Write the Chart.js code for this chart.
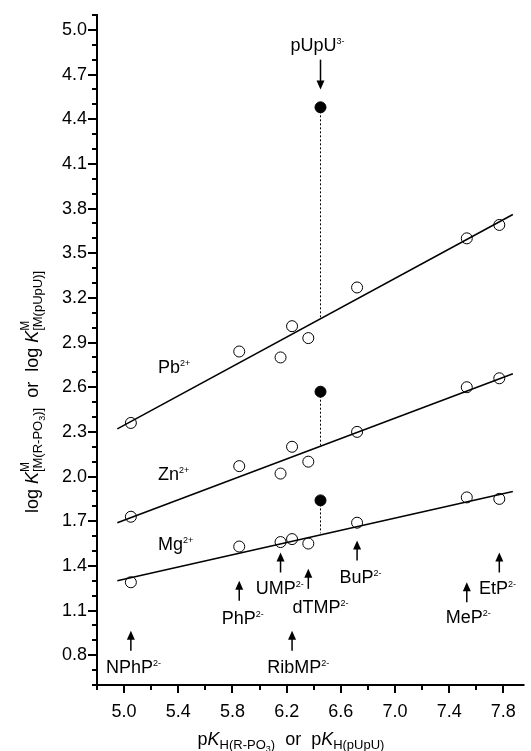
<!DOCTYPE html>
<html lang="en">
<head>
<meta charset="UTF-8">
<title>log K vs pK_H</title>
<style>
  html, body { margin: 0; padding: 0; background: #ffffff; }
  #wrap { width: 531px; height: 751px; position: relative; }
</style>
<script src="https://cdn.jsdelivr.net/npm/chart.js@4"></script>
</head>
<body>
<div id="wrap"><canvas id="chart" width="531" height="751"></canvas></div>
<script>
// ligands (phosphate monoesters), their pK_H and log K for each metal ion
const ligands = ['NPhP', 'PhP', 'UMP', 'RibMP', 'dTMP', 'BuP', 'MeP', 'EtP'];
const pKH = [5.05, 5.85, 6.155, 6.24, 6.36, 6.72, 7.53, 7.77];
const logK_Pb = [2.36, 2.84, 2.80, 3.01, 2.93, 3.27, 3.60, 3.69];
const logK_Zn = [1.73, 2.07, 2.02, 2.20, 2.10, 2.30, 2.60, 2.66];
const logK_Mg = [1.29, 1.53, 1.56, 1.58, 1.55, 1.69, 1.86, 1.85];

// pUpU3- (filled symbols)
const pKH_pUpU = [6.45];
const pUpU_Pb = [4.48];
const pUpU_Zn = [2.57];
const pUpU_Mg = [1.84];

// reference lines (end points) and their value at pK_H(pUpU)
const fitX = [4.95, 7.87];
const fitPb = [2.32, 3.76];
const fitZn = [1.69, 2.69];
const fitMg = [1.30, 1.90];
const lineAtPUpU = [3.06, 2.21, 1.62];

// axis ticks
const xMajor = [5.0, 5.4, 5.8, 6.2, 6.6, 7.0, 7.4, 7.8];
const xMinor = [4.8, 5.2, 5.6, 6.0, 6.4, 6.8, 7.2, 7.6];
const yMajor = [0.8, 1.1, 1.4, 1.7, 2.0, 2.3, 2.6, 2.9, 3.2, 3.5, 3.8, 4.1, 4.4, 4.7, 5.0];
const yMinor = [0.6, 0.7, 0.9, 1.0, 1.2, 1.3, 1.5, 1.6, 1.8, 1.9, 2.1, 2.2, 2.4, 2.5, 2.7, 2.8,
                3.0, 3.1, 3.3, 3.4, 3.6, 3.7, 3.9, 4.0, 4.2, 4.3, 4.5, 4.6, 4.8, 4.9, 5.1];

const FONT = "'Liberation Sans', Arial, Helvetica, sans-serif";

// where the ligand arrows and names sit (data units): arrow x, arrow tip y, label x, label y
const ligandNotes = [
  [5.05, 0.965, 5.07, 0.725],
  [5.85, 1.30, 5.876, 1.053],
  [6.155, 1.49, 6.15, 1.254],
  [6.24, 0.965, 6.286, 0.723],
  [6.36, 1.38, 6.45, 1.127],
  [6.72, 1.57, 6.745, 1.328],
  [7.53, 1.29, 7.54, 1.06],
  [7.77, 1.49, 7.756, 1.254]
];
const metalNotes = [['Pb', 5.25, 2.74], ['Zn', 5.25, 2.02], ['Mg', 5.25, 1.55]];

function pts(xs, ys) {
  return xs.map((x, i) => ({x: x, y: ys[i]}));
}

function drawRich(ctx, parts, x, y, align) {
  // parts: {t, size, dy, italic, stay}
  let w = 0;
  parts.forEach(p => {
    ctx.font = (p.italic ? 'italic ' : '') + p.size + 'px ' + FONT;
    p.w = ctx.measureText(p.t).width;
    if (!p.stay) w += p.w;
  });
  let cx = align === 'center' ? x - w / 2 : (align === 'right' ? x - w : x);
  ctx.textAlign = 'left';
  ctx.textBaseline = 'alphabetic';
  parts.forEach(p => {
    ctx.font = (p.italic ? 'italic ' : '') + p.size + 'px ' + FONT;
    ctx.fillText(p.t, cx, y + (p.dy || 0));
    if (!p.stay) cx += p.w;
  });
}

function withSup(name, sup) {
  return [{t: name, size: 18}, {t: sup, size: 9, dy: -7}];
}

function arrow(ctx, x, y0, y1) {
  // line from y0 to tip y1
  const dir = y1 < y0 ? 1 : -1;
  ctx.beginPath();
  ctx.moveTo(x, y0);
  ctx.lineTo(x, y1 + dir * 6);
  ctx.lineWidth = 1.5;
  ctx.stroke();
  ctx.beginPath();
  ctx.moveTo(x, y1);
  ctx.lineTo(x - 4, y1 + dir * 9);
  ctx.lineTo(x + 4, y1 + dir * 9);
  ctx.closePath();
  ctx.fill();
}

const decorations = {
  id: 'decorations',
  afterDraw(chart) {
    const ctx = chart.ctx;
    const xs = chart.scales.x, ys = chart.scales.y;
    const area = chart.chartArea;
    ctx.save();
    ctx.fillStyle = '#000';
    ctx.strokeStyle = '#000';

    // axis lines
    ctx.lineWidth = 2;
    ctx.beginPath();
    ctx.moveTo(area.left, ys.getPixelForValue(5.1) - 1);
    ctx.lineTo(area.left, area.bottom);
    ctx.lineTo(area.right, area.bottom);
    ctx.stroke();

    // tick marks
    ctx.lineWidth = 2;
    xs.ticks.forEach(t => {
      const px = Math.round(xs.getPixelForValue(t.value));
      const len = xMajor.some(v => Math.abs(v - t.value) < 1e-6) ? 8 : 5;
      ctx.beginPath();
      ctx.moveTo(px, area.bottom);
      ctx.lineTo(px, area.bottom + len);
      ctx.stroke();
    });
    ys.ticks.forEach(t => {
      const py = Math.round(ys.getPixelForValue(t.value));
      const len = yMajor.some(v => Math.abs(v - t.value) < 1e-6) ? 9 : 5;
      ctx.beginPath();
      ctx.moveTo(area.left, py);
      ctx.lineTo(area.left - len, py);
      ctx.stroke();
    });

    // ligand arrows and names
    ligandNotes.forEach((n, i) => {
      const ax = xs.getPixelForValue(n[0]);
      const tip = ys.getPixelForValue(n[1]);
      arrow(ctx, ax, tip + 20, tip);
      drawRich(ctx, withSup(ligands[i], '2-'), xs.getPixelForValue(n[2]), ys.getPixelForValue(n[3]) + 6.5, 'center');
    });

    // metal ion names
    metalNotes.forEach(m => {
      drawRich(ctx, withSup(m[0], '2+'), xs.getPixelForValue(m[1]), ys.getPixelForValue(m[2]) + 6.5, 'left');
    });

    // pUpU3- label and arrow
    const ux = xs.getPixelForValue(pKH_pUpU[0]);
    drawRich(ctx, withSup('pUpU', '3-'), ux - 3, ys.getPixelForValue(4.90) + 6.5, 'center');
    arrow(ctx, ux, ys.getPixelForValue(4.80), ys.getPixelForValue(4.60));

    // x axis title
    drawRich(ctx, [
      {t: 'p', size: 18}, {t: 'K', size: 18, italic: true},
      {t: 'H(R-PO', size: 13, dy: 4}, {t: '3', size: 9, dy: 7}, {t: ')', size: 13, dy: 4},
      {t: '  or  p', size: 18}, {t: 'K', size: 18, italic: true},
      {t: 'H(pUpU)', size: 13, dy: 4}
    ], 291, 745, 'center');

    // y axis title (rotated)
    ctx.translate(38, 392);
    ctx.rotate(-Math.PI / 2);
    drawRich(ctx, [
      {t: 'log ', size: 18}, {t: 'K', size: 18, italic: true},
      {t: 'M', size: 12, dy: -9, stay: true},
      {t: '[M(R-PO', size: 13, dy: 4}, {t: '3', size: 9, dy: 7}, {t: ')]', size: 13, dy: 4},
      {t: '  or  log ', size: 18}, {t: 'K', size: 18, italic: true},
      {t: 'M', size: 12, dy: -9, stay: true},
      {t: '[M(pUpU)]', size: 13, dy: 4}
    ], 0, 0, 'center');
    ctx.restore();
  }
};

const openPoint = {
  showLine: false,
  pointStyle: 'circle',
  pointRadius: 5.5,
  pointBorderWidth: 1,
  pointBorderColor: '#000',
  pointBackgroundColor: 'rgba(0,0,0,0)',
  order: 1
};
const filledPoint = {
  showLine: false,
  pointRadius: 5.5,
  pointBorderWidth: 1,
  pointBorderColor: '#000',
  pointBackgroundColor: '#000',
  order: 0
};
const fitLine = {
  showLine: true,
  pointRadius: 0,
  borderColor: '#000',
  borderWidth: 1.5,
  order: 3
};
const dropLine = {
  showLine: true,
  pointRadius: 0,
  borderColor: '#000',
  borderWidth: 1,
  borderDash: [2, 2],
  order: 2
};

new Chart(document.getElementById('chart'), {
  type: 'scatter',
  data: {
    datasets: [
      Object.assign({label: 'Pb fit', data: pts(fitX, fitPb)}, fitLine),
      Object.assign({label: 'Zn fit', data: pts(fitX, fitZn)}, fitLine),
      Object.assign({label: 'Mg fit', data: pts(fitX, fitMg)}, fitLine),
      Object.assign({label: 'Pb drop', data: [{x: pKH_pUpU[0], y: pUpU_Pb[0]}, {x: pKH_pUpU[0], y: lineAtPUpU[0]}]}, dropLine),
      Object.assign({label: 'Zn drop', data: [{x: pKH_pUpU[0], y: pUpU_Zn[0]}, {x: pKH_pUpU[0], y: lineAtPUpU[1]}]}, dropLine),
      Object.assign({label: 'Mg drop', data: [{x: pKH_pUpU[0], y: pUpU_Mg[0]}, {x: pKH_pUpU[0], y: lineAtPUpU[2]}]}, dropLine),
      Object.assign({label: 'Pb2+', data: pts(pKH, logK_Pb)}, openPoint),
      Object.assign({label: 'Zn2+', data: pts(pKH, logK_Zn)}, openPoint),
      Object.assign({label: 'Mg2+', data: pts(pKH, logK_Mg)}, openPoint),
      Object.assign({label: 'Pb2+ pUpU', data: pts(pKH_pUpU, pUpU_Pb)}, filledPoint),
      Object.assign({label: 'Zn2+ pUpU', data: pts(pKH_pUpU, pUpU_Zn)}, filledPoint),
      Object.assign({label: 'Mg2+ pUpU', data: pts(pKH_pUpU, pUpU_Mg)}, filledPoint)
    ]
  },
  options: {
    responsive: false,
    animation: false,
    layout: { padding: { top: 15, right: 0, left: 0, bottom: 0 } },
    plugins: { legend: { display: false }, tooltip: { enabled: false } },
    scales: {
      x: {
        type: 'linear',
        min: 4.8,
        max: 7.956,
        grid: { display: false, drawTicks: false },
        border: { display: false },
        afterBuildTicks: s => { s.ticks = xMajor.concat(xMinor).sort((a, b) => a - b).map(v => ({value: v})); },
        afterFit: s => { s.height = 66; s.paddingLeft = 0; s.paddingRight = 0; },
        ticks: {
          autoSkip: false,
          maxRotation: 0,
          padding: 16,
          color: '#000',
          font: { family: FONT, size: 18 },
          callback: v => xMajor.some(m => Math.abs(m - v) < 1e-6) ? v.toFixed(1) : ''
        }
      },
      y: {
        type: 'linear',
        min: 0.6,
        max: 5.1,
        grid: { display: false, drawTicks: false },
        border: { display: false },
        afterBuildTicks: s => { s.ticks = yMajor.concat(yMinor).sort((a, b) => a - b).map(v => ({value: v})); },
        afterFit: s => { s.width = 97; s.paddingTop = 0; s.paddingBottom = 0; },
        ticks: {
          autoSkip: false,
          padding: 10,
          color: '#000',
          font: { family: FONT, size: 18 },
          callback: v => yMajor.some(m => Math.abs(m - v) < 1e-6) ? v.toFixed(1) : ''
        }
      }
    }
  },
  plugins: [decorations]
});
</script>
</body>
</html>
